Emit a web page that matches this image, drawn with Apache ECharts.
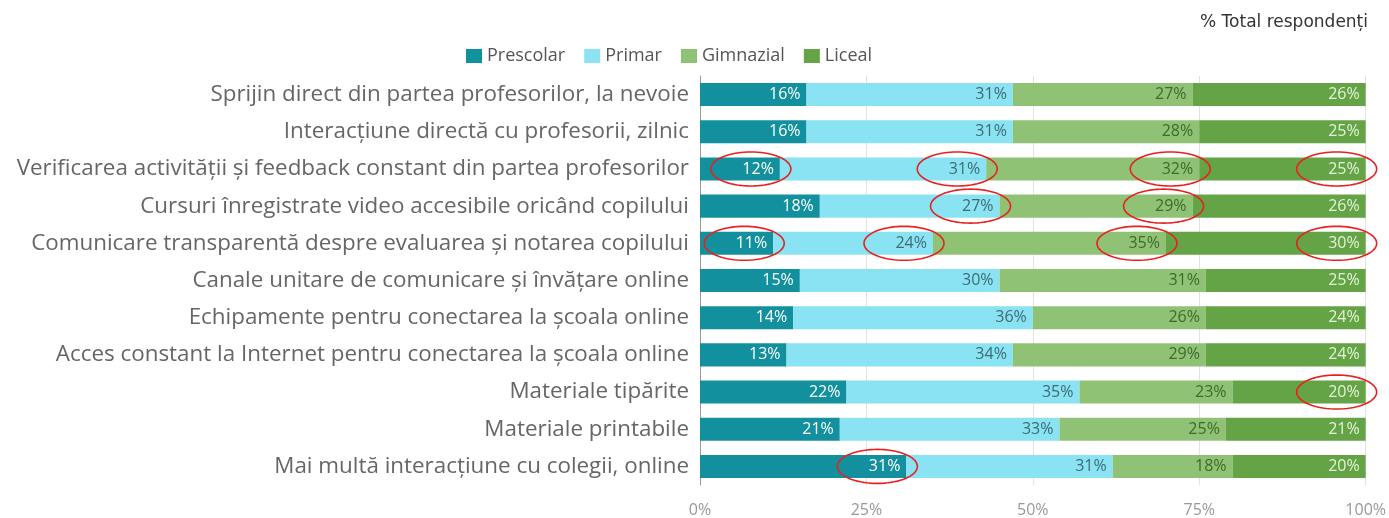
<!DOCTYPE html>
<html>
<head>
    <meta charset="utf-8">
    <title>% Total respondenți</title>
    <script src="https://cdn.jsdelivr.net/npm/echarts@6/dist/echarts.min.js"></script>
    <style>
        html, body { margin: 0; padding: 0; background: #fff; }
        #chart1 { width: 1389px; height: 518px; }
    </style>
</head>
<body>
<div id="chart1"></div>
<script type="text/javascript">
    // categorii, de sus in jos
    var categories = [
        'Sprijin direct din partea profesorilor, la nevoie',
        'Interacțiune directă cu profesorii, zilnic',
        'Verificarea activității și feedback constant din partea profesorilor',
        'Cursuri înregistrate video accesibile oricând copilului',
        'Comunicare transparentă despre evaluarea și notarea copilului',
        'Canale unitare de comunicare și învățare online',
        'Echipamente pentru conectarea la școala online',
        'Acces constant la Internet pentru conectarea la școala online',
        'Materiale tipărite',
        'Materiale printabile',
        'Mai multă interacțiune cu colegii, online'
    ];
    var prescolar = [16, 16, 12, 18, 11, 15, 14, 13, 22, 21, 31];
    var primar    = [31, 31, 31, 27, 24, 30, 36, 34, 35, 33, 31];
    var gimnazial = [27, 28, 32, 29, 35, 31, 26, 29, 23, 25, 18];
    var liceal    = [26, 25, 25, 26, 30, 25, 24, 24, 20, 21, 20];
    var xTicks = [0, 25, 50, 75, 100];

    // cercurile rosii: [rand, serie]
    var marked = [
        [2, 0], [2, 1], [2, 2], [2, 3],
        [3, 1], [3, 2],
        [4, 0], [4, 1], [4, 2], [4, 3],
        [8, 3],
        [10, 0]
    ];

    var seriesData = [prescolar, primar, gimnazial, liceal];
    var names = ['Prescolar', 'Primar', 'Gimnazial', 'Liceal'];
    var colors = ['#13909e', '#8ae3f2', '#8fc274', '#64a346'];
    var labelColors = ['#ffffff', '#3f6a74', '#3e6a2c', '#e4f3d6'];

    function segEnd(row, s) {
        var sum = 0;
        for (var i = 0; i <= s; i++) sum += seriesData[i][row];
        return Math.min(sum, 100);
    }

    var series = names.map(function (n, i) {
        return {
            name: n,
            type: 'bar',
            stack: 'total',
            barCategoryGap: '38%',
            data: seriesData[i],
            itemStyle: { color: colors[i] },
            label: {
                show: true,
                position: 'insideRight',
                formatter: '{c}%',
                color: labelColors[i],
                fontFamily: 'Open Sans',
                fontSize: 16,
                distance: 6
            }
        };
    });

    series.push({
        type: 'custom',
        name: 'marks',
        silent: true,
        z: 10,
        data: marked,
        renderItem: function (params, api) {
            var row = api.value(0), s = api.value(1);
            var p = api.coord([segEnd(row, s), row]);
            var cx = p[0] - 29, cy = p[1];
            var rx = 40, ry = 17, pts = [];
            for (var k = 0; k < 72; k++) {
                var a = k / 72 * Math.PI * 2;
                pts.push([cx + rx * Math.cos(a), cy + ry * Math.sin(a)]);
            }
            return {
                type: 'polygon',
                shape: { points: pts },
                style: { fill: 'none', stroke: '#e8201f', lineWidth: 1.6 }
            };
        },
        encode: { x: 1, y: 0 }
    });

    var myChart = echarts.init(document.getElementById('chart1'));
    myChart.setOption({
        animation: false,
        title: {
            text: '% Total respondenți',
            right: 16,
            top: 9,
            textStyle: { fontFamily: 'DejaVu Sans', fontSize: 17, fontWeight: 'normal', color: '#333' }
        },
        legend: {
            data: names,
            left: 461,
            top: 42,
            icon: 'rect',
            itemWidth: 16,
            itemHeight: 14,
            itemGap: 19,
            textStyle: { fontFamily: 'Open Sans', fontSize: 18, color: '#555' }
        },
        grid: { left: 700, right: 23, top: 76, bottom: 32 },
        xAxis: {
            type: 'value',
            min: xTicks[0],
            max: xTicks[xTicks.length - 1],
            interval: 25,
            axisLine: { show: false },
            axisTick: { show: false },
            splitLine: { lineStyle: { color: '#e2e2e2' } },
            axisLabel: { formatter: '{value}%', fontFamily: 'Open Sans', fontSize: 16, color: '#999', margin: 17 }
        },
        yAxis: {
            type: 'category',
            inverse: true,
            data: categories,
            axisLine: { show: true, lineStyle: { color: '#999' } },
            axisTick: { show: false },
            axisLabel: { fontFamily: 'Open Sans', fontSize: 22.4, color: '#666', margin: 11 }
        },
        series: series
    });
</script>
</body>
</html>
